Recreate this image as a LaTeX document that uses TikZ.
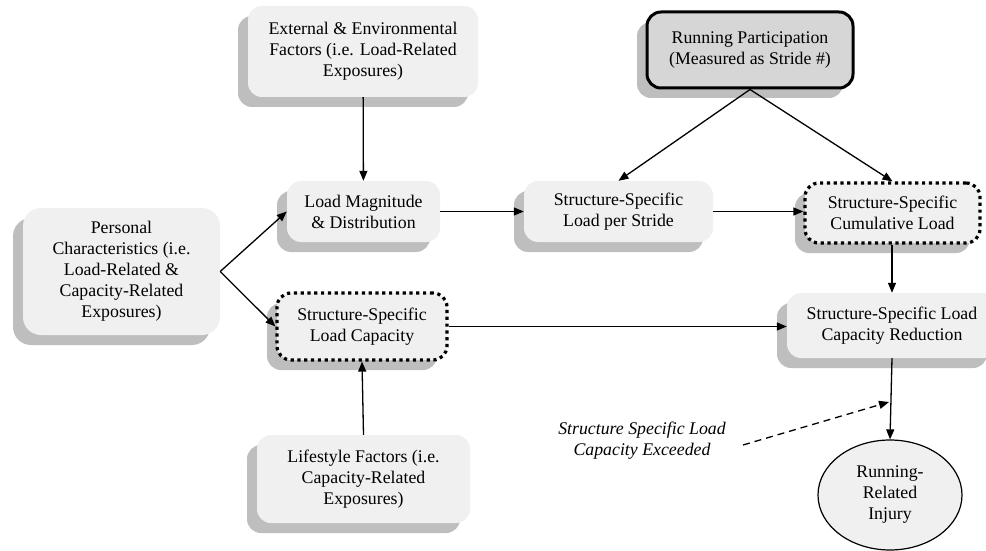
\documentclass[tikz,border=0pt]{standalone}
\usepackage{fontspec}
\setmainfont{Liberation Serif}
\usetikzlibrary{arrows.meta,shadows,shapes.geometric}
\definecolor{boxfill}{HTML}{F0F0F0}
\definecolor{shadowgray}{HTML}{BEBEBE}
\definecolor{runfill}{HTML}{D6D6D6}
\tikzset{
  base/.style={rounded corners=14pt, fill=boxfill, align=center, inner sep=0pt,
    font=\fontsize{17.8}{21}\selectfont,
    general shadow={fill=shadowgray, shadow xshift=-10pt, shadow yshift=-10pt}},
  plainbox/.style={base, draw=none},
  dotbox/.style={base, draw=black, line width=3.2pt, dash pattern=on 3.2pt off 3.6pt},
  runbox/.style={base, fill=runfill, draw=black, line width=3pt},
  arr/.style={line width=1.3pt, -{Triangle[length=10pt,width=8pt]}},
  dasharr/.style={arr, dash pattern=on 7pt off 5pt},
}
\begin{document}
\begin{tikzpicture}[x=1pt,y=-1pt]
\useasboundingbox (0,0) rectangle (986,551);
\clip (0,0) rectangle (986,551);
\node[plainbox, minimum width=230pt, minimum height=91pt] (ext) at (363,51.5)
  {External \& Environmental\\Factors (i.e. Load-Related\\Exposures)};
\node[runbox, minimum width=206pt, minimum height=76pt] (run) at (750,50)
  {Running Participation\\(Measured as Stride \#)};
\node[plainbox, rounded corners=18pt, minimum width=197pt, minimum height=127pt] (pers) at (121.5,271.5)
  {Personal\\Characteristics (i.e.\\Load-Related \&\\Capacity-Related\\Exposures)};
\node[plainbox, minimum width=153pt, minimum height=61pt] (mag) at (363.5,211.5)
  {Load Magnitude\\\& Distribution};
\node[dotbox, minimum width=170pt, minimum height=67pt] (cap) at (362,326.5)
  {Structure-Specific\\Load Capacity};
\node[plainbox, minimum width=213pt, minimum height=88pt] (life) at (363.5,479)
  {Lifestyle Factors (i.e.\\Capacity-Related\\Exposures)};
\node[plainbox, minimum width=189pt, minimum height=61pt] (stride) at (618.5,211.5)
  {Structure-Specific\\Load per Stride};
\node[dotbox, minimum width=175pt, minimum height=60pt] (cum) at (892.5,213)
  {Structure-Specific\\Cumulative Load};
\node[plainbox, minimum width=210pt, minimum height=65pt] (red) at (892,325.5)
  {Structure-Specific Load\\Capacity Reduction};
\node[ellipse, draw=black, line width=1.2pt, fill=boxfill, align=center, inner sep=0pt,
  minimum width=144pt, minimum height=110pt, font=\fontsize{17.8}{21}\selectfont] (inj) at (890,495)
  {Running-\\Related\\Injury};
\node[align=center, font=\fontsize{17.8}{21}\selectfont\itshape] (lab) at (642,441)
  {Structure Specific Load\\Capacity Exceeded};

\draw[arr] (ext) -- (mag);
\draw[arr] (pers.east) -- (mag.west);
\draw[arr] (pers.east) -- (cap.west);
\draw[arr] (mag.east) -- (stride.west);
\draw[arr] (run.south) -- (stride.north);
\draw[arr] (run.south) -- (cum.north);
\draw[arr] (stride.east) -- (cum.west |- stride.east);
\draw[arr] (cum.south -| red.north) -- (red.north);
\draw[arr] (cap.east) -- (cap.east -| red.west);
\draw[arr] (life.north) -- (cap.south);
\draw[arr] (red.south) -- (inj.north);
\coordinate (dstart) at (743,445);
\coordinate (dend) at (889,402);
\draw[dasharr] (dstart) -- (dend);
\end{tikzpicture}
\end{document}
